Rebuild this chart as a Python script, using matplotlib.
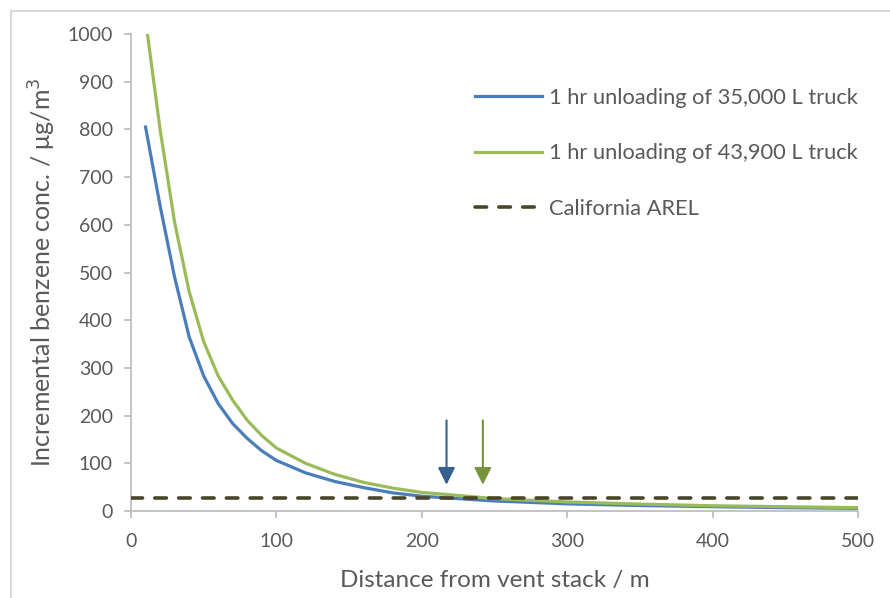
import matplotlib
matplotlib.use("Agg")
import matplotlib.pyplot as plt
from matplotlib.patches import Rectangle

# distance from vent stack (m)
distance = [10, 20, 30, 40, 50, 60, 70, 80, 90, 100,
            120, 140, 160, 180, 200, 250, 300, 350, 400, 450, 500]

# incremental benzene concentration (ug/m3)
conc_35000 = [805, 640, 490, 365, 283, 225, 183, 152, 126, 106,
              80, 62, 49, 38, 31, 21, 15, 11.5, 9, 7, 5.5]
conc_43900 = [1030, 800, 605, 460, 355, 283, 232, 190, 158, 132,
              100, 77, 60, 48, 39, 26, 19, 14.5, 11, 9, 7]

arel = 27
arel_x = [0, 500]

# distances where each curve drops below the AREL
cross_35000 = 217
cross_43900 = 242

x_ticks = [0, 100, 200, 300, 400, 500]
y_ticks = [0, 100, 200, 300, 400, 500, 600, 700, 800, 900, 1000]

label_35000 = "1 hr unloading of 35,000 L truck"
label_43900 = "1 hr unloading of 43,900 L truck"
label_arel = "California AREL"

plt.rcParams["font.family"] = ["Lato", "DejaVu Sans"]
text_col = "#595959"
axis_col = "#BFBFBF"

fig = plt.figure(figsize=(8.9, 5.98), dpi=100)
ax = fig.add_axes([131 / 890, 87 / 598, 727 / 890, 477 / 598])

ax.plot(distance, conc_35000, color="#4A7EBB", lw=2.3, label=label_35000, zorder=3)
ax.plot(distance, conc_43900, color="#9BBB59", lw=2.3, label=label_43900, zorder=3)
ax.plot(arel_x, [arel, arel], color="#4A4529", lw=2.6, dashes=(3.2, 3.4),
        dash_capstyle="round", label=label_arel, zorder=4)

ax.annotate("", xy=(cross_35000, 55), xytext=(cross_35000, 190),
            arrowprops=dict(arrowstyle="-|>", color="#376092", lw=1.5,
                            mutation_scale=26, shrinkA=0, shrinkB=0))
ax.annotate("", xy=(cross_43900, 55), xytext=(cross_43900, 190),
            arrowprops=dict(arrowstyle="-|>", color="#77933C", lw=1.5,
                            mutation_scale=26, shrinkA=0, shrinkB=0))

ax.set_xlim(0, 500)
ax.set_ylim(0, 1000)
ax.set_xticks(x_ticks)
ax.set_yticks(y_ticks)

for side in ["top", "right"]:
    ax.spines[side].set_visible(False)
for side in ["left", "bottom"]:
    ax.spines[side].set_color(axis_col)
    ax.spines[side].set_linewidth(1.3)
ax.tick_params(axis="both", colors=axis_col, length=5, width=1.3,
               labelcolor=text_col, labelsize=14, pad=8)
ax.tick_params(axis="x", pad=11)

ax.set_xlabel("Distance from vent stack / m", fontsize=17.5, color=text_col, labelpad=14)
ax.set_ylabel("Incremental benzene conc. / μg/m$^3$", fontsize=18, color=text_col,
              labelpad=7)

leg = ax.legend(loc="upper left", bbox_to_anchor=(0.446, 0.928), frameon=False,
                fontsize=15.75, labelcolor=text_col, handlelength=3.05,
                handletextpad=0.32, labelspacing=1.62)

# outer chart border (cut off on the right and bottom)
fig.patches.append(Rectangle((11 / 890, -0.1), 1.2, (598 - 11) / 598 + 0.1,
                             transform=fig.transFigure, fill=False,
                             edgecolor="#D9D9D9", lw=1.5))

fig.savefig("out.png", dpi=100)
